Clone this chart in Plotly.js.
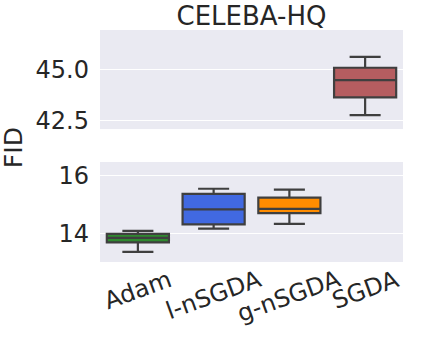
<!DOCTYPE html>
<html>
<head>
<meta charset="utf-8">
<script src="https://cdn.plot.ly/plotly-3.0.1.min.js"></script>
<style>html,body{margin:0;padding:0;background:#fff;}#chart{width:432px;height:360px;}</style>
</head>
<body>
<div id="chart"></div>
<script>
// Data (FID on CELEBA-HQ)
var categories = ["Adam", "l-nSGDA", "g-nSGDA", "SGDA"];
var lowerFence = [13.35, 14.16, 14.33, 42.75];
var q1Values   = [13.68, 14.31, 14.70, 43.62];
var medians    = [13.84, 14.83, 14.85, 44.47];
var q3Values   = [13.98, 15.37, 15.24, 45.08];
var upperFence = [14.08, 15.55, 15.52, 45.62];
var boxColors  = ["#2f8a2f", "#4169e1", "#ff8c00", "#b55d60"];
var topPanel   = [false, false, false, true];   // SGDA lives on the upper (broken) axis
var titleText  = "CELEBA-HQ";
var yLabel     = "FID";
var topTicks   = [42.5, 45.0];
var bottomTicks = [14, 16];

var FONT = "DejaVu Sans, sans-serif";
var traces = categories.map(function (c, i) {
  return {
    type: "box",
    name: c,
    x: [c],
    q1: [q1Values[i]],
    median: [medians[i]],
    q3: [q3Values[i]],
    lowerfence: [lowerFence[i]],
    upperfence: [upperFence[i]],
    fillcolor: boxColors[i],
    line: {color: "#3f3f3f", width: 2.2},
    width: 0.82,
    whiskerwidth: 0.5,
    boxpoints: false,
    hoverinfo: "skip",
    showlegend: false,
    xaxis: topPanel[i] ? "x2" : "x",
    yaxis: topPanel[i] ? "y2" : "y"
  };
});

var tickAnnotations = categories.map(function (c) {
  return {
    text: c, x: c, xref: "x", y: 0.0, yref: "paper",
    xanchor: "center", yanchor: "top", textangle: -20, showarrow: false,
    font: {family: FONT, size: 24, color: "#262626"}
  };
});
tickAnnotations.push({
  text: yLabel, xref: "paper", x: -0.287, yref: "paper", y: 0.491,
  xanchor: "center", yanchor: "middle", textangle: -90, showarrow: false,
  font: {family: FONT, size: 25, color: "#262626"}
});

var axisCommon = {
  showline: false, zeroline: false, gridcolor: "#ffffff", gridwidth: 1,
  tickfont: {family: FONT, size: 24, color: "#262626"},
  ticks: "", ticklabelstandoff: 10, automargin: false
};

var layout = {
  width: 432, height: 360,
  margin: {l: 100, r: 29, t: 30, b: 98, pad: 0},
  paper_bgcolor: "#ffffff",
  plot_bgcolor: "#eaeaf2",
  boxmode: "overlay",
  title: {
    text: titleText, x: 0.5, xref: "paper", xanchor: "center",
    y: 1 - 16 / 360, yref: "container", yanchor: "middle",
    font: {family: FONT, size: 26, color: "#262626"}
  },
  xaxis: {
    domain: [0, 1], anchor: "y", type: "category",
    categoryorder: "array", categoryarray: categories, automargin: false,
    range: [-0.5, 3.5], showgrid: false, showticklabels: false,
    showline: false, zeroline: false, ticks: ""
  },
  xaxis2: {
    domain: [0, 1], anchor: "y2", type: "category",
    categoryorder: "array", categoryarray: categories, matches: "x", automargin: false,
    range: [-0.5, 3.5], showgrid: false, showticklabels: false,
    showline: false, zeroline: false, ticks: ""
  },
  yaxis: Object.assign({}, axisCommon, {
    domain: [0, 0.431], anchor: "x", range: [13.0, 16.48],
    tickmode: "array", tickvals: bottomTicks, ticktext: bottomTicks.map(String)
  }),
  yaxis2: Object.assign({}, axisCommon, {
    domain: [0.573, 1], anchor: "x2", range: [42.06, 46.94],
    tickmode: "array", tickvals: topTicks, ticktext: topTicks.map(function (v) { return v.toFixed(1); })
  }),
  annotations: tickAnnotations
};

Plotly.newPlot("chart", traces, layout, {staticPlot: true, displayModeBar: false});
</script>
</body>
</html>
